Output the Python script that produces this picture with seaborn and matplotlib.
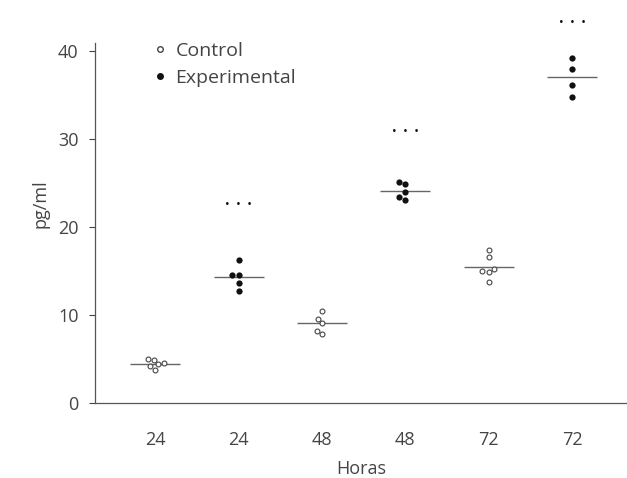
import pandas as pd
import matplotlib.pyplot as plt
import seaborn as sns
from matplotlib.lines import Line2D

# valores (pg/ml)
grupos = ['C24', 'E24', 'C48', 'E48', 'C72', 'E72']
horas = ['24', '24', '48', '48', '72', '72']
control_24 = [5.0, 4.6, 4.2, 3.8, 4.4, 4.9]
exp_24 = [16.3, 14.6, 14.6, 13.7, 12.7]
control_48 = [10.5, 9.6, 9.1, 8.2, 7.8]
exp_48 = [25.1, 24.9, 24.0, 23.1, 23.4]
control_72 = [17.4, 16.6, 15.2, 15.0, 14.9, 13.8]
exp_72 = [39.2, 38.0, 36.2, 34.8]
# marcas de significancia sobre los grupos experimentales
sig_grupos = ['E24', 'E48', 'E72']
sig_y = [22.6, 30.9, 43.3]

series = {'C24': control_24, 'E24': exp_24, 'C48': control_48,
          'E48': exp_48, 'C72': control_72, 'E72': exp_72}
rows = []
for g, vals in series.items():
    for v in vals:
        rows.append({'grupo': g, 'pg': v,
                     'tipo': 'Control' if g.startswith('C') else 'Experimental'})
df = pd.DataFrame(rows)
ctrl = df[df['tipo'] == 'Control']
expe = df[df['tipo'] == 'Experimental']

sns.set_style('white')
plt.rcParams['font.family'] = ['Open Sans', 'DejaVu Sans']
gris = '#444444'

fig = plt.figure(figsize=(6.27, 4.78), dpi=100)
ax = fig.add_axes([0.152, 0.157, 0.848, 0.833])

# líneas de la media
sns.pointplot(data=df, x='grupo', y='pg', order=grupos, estimator='mean',
              errorbar=None, linestyles='none', markers='_', markersize=36,
              markeredgewidth=1.0, color='#666666', ax=ax)
sns.swarmplot(data=ctrl, x='grupo', y='pg', order=grupos, color='white',
              edgecolor=gris, linewidth=0.8, size=3.5, ax=ax)
sns.swarmplot(data=expe, x='grupo', y='pg', order=grupos, color='#111111',
              size=4.5, ax=ax)

pos = {g: i for i, g in enumerate(grupos)}
for g, y in zip(sig_grupos, sig_y):
    ax.text(pos[g], y, '•  •  •', ha='center', va='center',
            fontsize=9, color='#111111')

ax.set_xlim(-0.72, 5.66)
ax.set_ylim(0, 45.3)
ax.set_yticks([0, 10, 20, 30, 40])
ax.set_xticks(range(len(grupos)))
ax.set_xticklabels(horas)
ax.tick_params(axis='both', colors=gris, labelsize=13, length=4, width=0.8,
               direction='out', left=True, bottom=False)
ax.tick_params(axis='x', pad=16)
ax.tick_params(axis='y', pad=8)
for s in ['top', 'right']:
    ax.spines[s].set_visible(False)
for s in ['left', 'bottom']:
    ax.spines[s].set_color('#555555')
    ax.spines[s].set_linewidth(0.9)
ax.spines['left'].set_bounds(0, 41)

ax.set_xlabel('Horas', fontsize=13, color=gris, labelpad=8)
ax.set_ylabel('pg/ml', fontsize=13, color=gris, labelpad=6)

handles = [
    Line2D([], [], marker='o', linestyle='none', markerfacecolor='white',
           markeredgecolor=gris, markersize=4, label='Control'),
    Line2D([], [], marker='o', linestyle='none', markerfacecolor='#111111',
           markeredgecolor='#111111', markersize=4, label='Experimental'),
]
leg = ax.legend(handles=handles, loc='upper left', bbox_to_anchor=(0.07, 0.95),
                frameon=False, fontsize=14, handletextpad=0.3,
                handlelength=1.0, labelspacing=0.45)
for t in leg.get_texts():
    t.set_color(gris)

fig.savefig('out.png', dpi=100)
